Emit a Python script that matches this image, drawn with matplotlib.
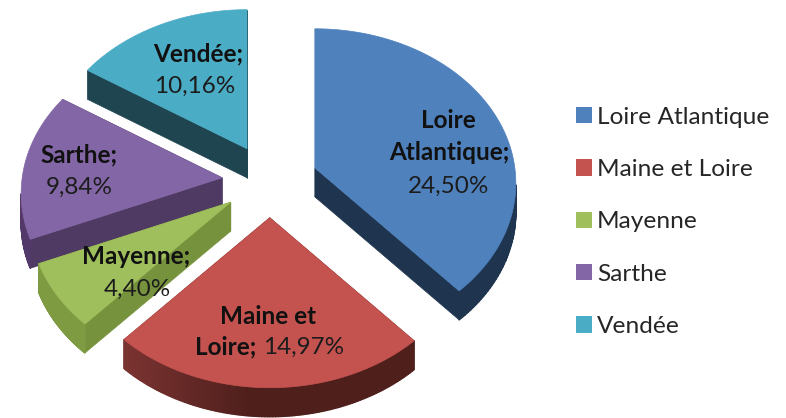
import numpy as np
import matplotlib
matplotlib.use('Agg')
import matplotlib.pyplot as plt
from matplotlib.collections import PolyCollection
from matplotlib.colors import to_rgb
from matplotlib.patches import Patch

names = ['Loire Atlantique', 'Maine et Loire', 'Mayenne', 'Sarthe', 'Vendée']
values = [24.50, 14.97, 4.40, 9.84, 10.16]
top_colors = ['#4F81BD', '#C4534F', '#9FBE5C', '#8366A6', '#4BACC6']
cut_colors = ['#1F344E', '#4F1F1C', '#76923C', '#4F3A63', '#1F4550']
rim_left = ['#1F344E', '#7C3432', '#7E9B42', '#53396A', '#1F4550']

# pie geometry, in pixels
cx, cy = 270, 181
rx, ry = 200, 153
persp = 0.1
explode = 0.24
depth = 29
n_rim = 120

plt.rcParams['font.family'] = ['Lato', 'DejaVu Sans']

fig = plt.figure(figsize=(7.86, 4.18), dpi=100)
ax = fig.add_axes([0, 0, 1, 1])
ax.set_xlim(0, 786)
ax.set_ylim(418, 0)
ax.axis('off')


def project(u, v):
    s = 1 / (1 + persp * v)
    return rx * u * s, -ry * v * s


fracs = np.array(values) / sum(values)
edges = np.concatenate([[0], np.cumsum(fracs)]) * 2 * np.pi

# far slices first, so near ones paint over them
order = [4, 3, 0, 2, 1]
for pos, i in enumerate(order):
    a0, a1 = edges[i], edges[i + 1]
    mid = (a0 + a1) / 2
    ax0 = cx + explode * rx * np.sin(mid)
    ay0 = cy - explode * ry * np.cos(mid)
    t = np.linspace(a0, a1, n_rim)
    px, py = project(np.sin(t), np.cos(t))
    px = ax0 + px
    py = ay0 + py
    top = np.column_stack([np.r_[ax0, px], np.r_[ay0, py]])

    # cut faces
    for ex, ey in [(px[0], py[0]), (px[-1], py[-1])]:
        ax.fill([ax0, ex, ex, ax0], [ay0, ey, ey + depth, ay0 + depth],
                color=cut_colors[i], lw=0.5, zorder=1 + pos * 3)

    # outer rim, shaded from the left, only the part facing the viewer
    quads = []
    shades = []
    c_l = np.array(to_rgb(rim_left[i]))
    c_r = np.array(to_rgb(cut_colors[i]))
    for j in range(n_rim - 1):
        if px[j + 1] >= px[j]:
            continue
        quads.append([(px[j], py[j]), (px[j + 1], py[j + 1]),
                      (px[j + 1], py[j + 1] + depth), (px[j], py[j] + depth)])
        w = np.clip((px[j] - (cx - 150)) / 130, 0, 1)
        shades.append(c_l * (1 - w) + c_r * w)
    ax.add_collection(PolyCollection(quads, facecolors=shades, edgecolors=shades, linewidths=1.0,
                                     zorder=1 + pos * 3))

    ax.fill(top[:, 0], top[:, 1], color=top_colors[i], lw=0.5, zorder=2 + pos * 3)

# data labels
fs = 17.5
bold = dict(fontsize=fs, fontweight='bold', color='#111111', ha='center', va='center', zorder=30)
reg = dict(fontsize=fs, color='#1c1c1c', ha='center', va='center', zorder=30)
ax.text(198, 54, 'Vendée;', **bold)
ax.text(195, 86, '10,16%', **reg)
ax.text(79, 155, 'Sarthe;', **bold)
ax.text(79, 187, '9,84%', **reg)
ax.text(136, 257, 'Mayenne;', **bold)
ax.text(137, 289, '4,40%', **reg)
ax.text(268, 316, 'Maine et', **bold)
ax.text(226, 347, 'Loire;', **bold)
ax.text(304, 347, '14,97%', **reg)
ax.text(448, 120, 'Loire', **bold)
ax.text(449, 152, 'Atlantique;', **bold)
ax.text(449, 186, '24,50%', **reg)

handles = [Patch(facecolor=c, edgecolor='none') for c in top_colors]
ax.legend(handles, names, loc='upper left', bbox_to_anchor=(566 / 786, 1 - 97 / 418), frameon=False,
          fontsize=17.6, labelcolor='#262626', handlelength=0.66, handleheight=0.66,
          handletextpad=0.2, labelspacing=1.28, borderpad=0, borderaxespad=0.4)

fig.savefig('out.png', dpi=100)
